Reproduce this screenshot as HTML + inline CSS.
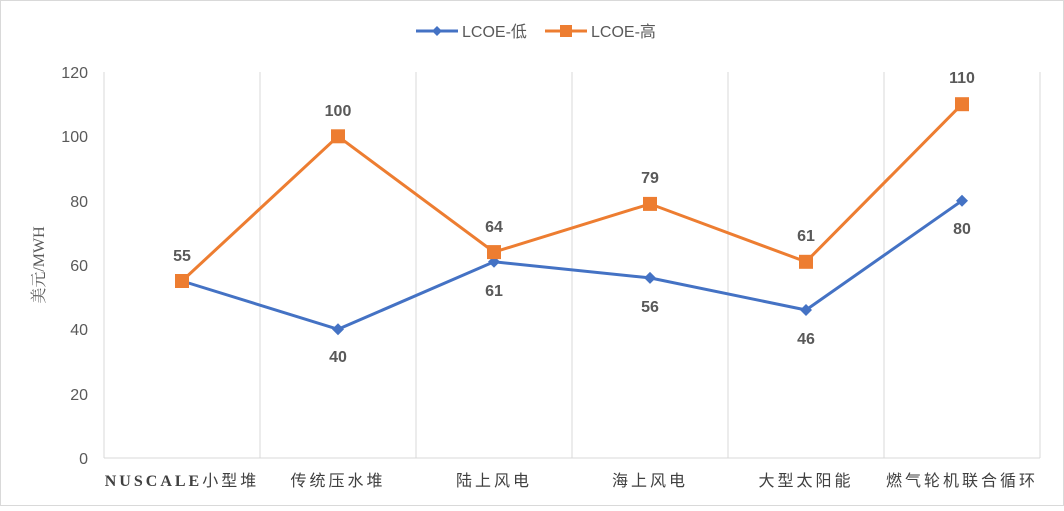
<!DOCTYPE html>
<html><head><meta charset="utf-8"><style>body{margin:0;background:#fff}</style></head><body>
<svg width="1064" height="506" xmlns="http://www.w3.org/2000/svg" font-family="Liberation Sans, Noto Sans CJK SC, sans-serif">
<rect x="0.5" y="0.5" width="1063" height="505" fill="#fff" stroke="#d9d9d9"/>
<g stroke="#d9d9d9" stroke-width="1">
<line x1="260" y1="72" x2="260" y2="458"/><line x1="416" y1="72" x2="416" y2="458"/>
<line x1="572" y1="72" x2="572" y2="458"/><line x1="728" y1="72" x2="728" y2="458"/>
<line x1="884" y1="72" x2="884" y2="458"/><line x1="1040" y1="72" x2="1040" y2="458"/>
<line x1="104" y1="72" x2="104" y2="458"/>
<line x1="104" y1="458" x2="1040" y2="458"/>
</g>
<g font-size="16" fill="#595959" text-anchor="end">
<text x="88" y="464">0</text><text x="88" y="400">20</text><text x="88" y="335">40</text>
<text x="88" y="271">60</text><text x="88" y="207">80</text><text x="88" y="142">100</text><text x="88" y="78">120</text>
</g>
<text transform="translate(44,265) rotate(-90)" font-size="16" fill="#595959" text-anchor="middle" font-family="Liberation Serif, Noto Serif CJK SC, serif">美元/MWH</text>
<g font-size="16" fill="#404040" text-anchor="middle" letter-spacing="3">
<text x="182" y="486" font-family="Liberation Serif, Noto Sans CJK SC, serif" font-weight="bold">NUSCALE<tspan font-weight="normal" font-family="Noto Sans CJK SC, sans-serif">小型堆</tspan></text>
<text x="338" y="486">传统压水堆</text><text x="494" y="486">陆上风电</text>
<text x="650" y="486">海上风电</text><text x="806" y="486">大型太阳能</text><text x="962" y="486">燃气轮机联合循环</text>
</g>
<polyline fill="none" stroke="#4472c4" stroke-width="3" points="182,281 338,329.3 494,261.8 650,277.9 806,310 962,200.7"/>
<polyline fill="none" stroke="#ed7d31" stroke-width="3" points="182,281 338,136.3 494,252.1 650,203.9 806,261.8 962,104.2"/>
<g fill="#4472c4">
<path d="M182,275l6,6l-6,6l-6,-6z"/><path d="M338,323.3l6,6l-6,6l-6,-6z"/><path d="M494,255.8l6,6l-6,6l-6,-6z"/>
<path d="M650,271.9l6,6l-6,6l-6,-6z"/><path d="M806,304l6,6l-6,6l-6,-6z"/><path d="M962,194.7l6,6l-6,6l-6,-6z"/>
</g>
<g fill="#ed7d31">
<rect x="175" y="274" width="14" height="14"/><rect x="331" y="129.3" width="14" height="14"/><rect x="487" y="245.1" width="14" height="14"/>
<rect x="643" y="196.9" width="14" height="14"/><rect x="799" y="254.8" width="14" height="14"/><rect x="955" y="97.2" width="14" height="14"/>
</g>
<g font-size="16" font-weight="bold" fill="#595959" text-anchor="middle">
<text x="182" y="261">55</text><text x="338" y="116">100</text><text x="494" y="232">64</text>
<text x="650" y="183">79</text><text x="806" y="241">61</text><text x="962" y="83">110</text>
<text x="338" y="362">40</text><text x="494" y="296">61</text><text x="650" y="312">56</text>
<text x="806" y="344">46</text><text x="962" y="234">80</text>
</g>
<line x1="416" y1="31" x2="458" y2="31" stroke="#4472c4" stroke-width="3"/>
<path d="M437,26l5,5l-5,5l-5,-5z" fill="#4472c4"/>
<text x="462" y="37" font-size="16" fill="#595959">LCOE-低</text>
<line x1="545" y1="31" x2="587" y2="31" stroke="#ed7d31" stroke-width="3"/>
<rect x="560" y="25" width="12" height="12" fill="#ed7d31"/>
<text x="591" y="37" font-size="16" fill="#595959">LCOE-高</text>
</svg>
</body></html>
